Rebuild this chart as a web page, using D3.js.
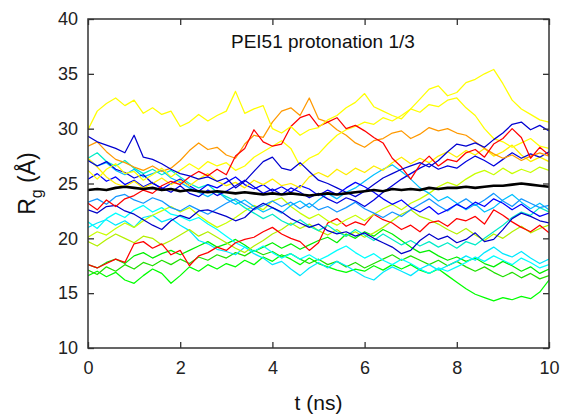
<!DOCTYPE html>
<html>
<head>
<meta charset="utf-8">
<script src="https://cdn.jsdelivr.net/npm/d3@7"></script>
<style>
  body { margin: 0; background: #fff; }
  svg { display: block; font-family: Arial, "Liberation Sans", sans-serif; }
</style>
</head>
<body>
<svg width="561" height="417"></svg>
<script>
// time (ns), one sample every 0.2 ns
var tNs = [0,0.2,0.4,0.6,0.8,1,1.2,1.4,1.6,1.8,2,2.2,2.4,2.6,2.8,3,3.2,3.4,3.6,3.8,4,4.2,4.4,4.6,4.8,5,
  5.2,5.4,5.6,5.8,6,6.2,6.4,6.6,6.8,7,7.2,7.4,7.6,7.8,8,8.2,8.4,8.6,8.8,9,9.2,9.4,9.6,9.8,10];

// Rg (Angstrom) of each chain
var yellow1 = [29.9,31.6,32.3,32.8,32.1,32.6,31.4,31.9,31.3,31.6,30.2,30.6,31.3,30.7,31.2,31.6,33.4,31.4,31.8,32.1,30.0,29.6,30.2,29.4,29.9,30.1,30.8,31.2,31.9,32.4,33.2,32.0,31.6,31.2,30.9,31.8,32.7,33.6,33.9,33.0,33.3,34.2,34.5,35.0,35.4,34.1,32.6,31.8,31.3,30.8,30.6];
var yellow2 = [26.2,25.4,26.3,26.8,25.9,26.1,25.3,25.8,26.4,25.6,26.2,26.8,26.3,27.0,26.6,26.9,26.2,26.6,27.4,27.9,28.4,28.9,28.2,26.6,27.3,27.7,28.6,29.4,29.9,30.2,30.6,30.4,31.0,30.7,31.2,31.8,31.5,32.2,32.0,32.6,32.8,31.9,31.2,30.0,29.1,28.8,28.3,28.7,29.1,28.4,28.2];
var yellow3 = [27.3,26.5,25.6,25.0,24.7,25.2,24.6,25.0,25.5,24.9,25.3,24.8,25.4,25.9,25.2,24.8,25.1,24.6,25.3,24.9,25.4,24.8,25.0,24.6,25.6,26.0,25.6,26.3,25.8,26.4,26.0,26.6,26.2,26.9,27.4,26.8,27.3,26.9,27.5,27.9,27.4,28.0,27.6,28.2,27.5,27.9,28.5,27.6,27.0,27.4,27.0];
var orange1 = [28.4,28.8,27.9,27.2,26.9,26.5,26.2,26.6,26.1,26.4,27.1,28.0,28.7,28.1,28.3,27.6,27.3,28.6,29.4,29.2,30.6,31.6,31.9,31.2,32.8,30.9,30.6,29.9,29.4,28.7,28.3,28.9,29.1,29.6,29.8,29.1,29.5,30.1,29.8,30.0,29.6,29.4,28.8,28.2,27.7,27.3,27.6,27.1,27.5,27.8,27.5];
var red1 = [23.2,22.6,23.5,22.9,23.6,23.9,24.4,24.1,24.8,25.2,24.9,25.6,26.1,25.7,26.3,25.8,27.5,28.2,29.9,28.8,28.4,28.6,30.2,31.0,31.3,30.2,30.6,31.0,30.0,30.3,29.8,29.2,28.7,27.3,26.5,25.4,26.7,27.5,26.6,27.2,27.0,27.8,28.1,27.4,28.6,29.1,30.0,29.2,27.3,28.3,27.6];
var red2 = [17.6,17.3,17.7,18.1,17.8,19.5,19.7,19.1,19.5,18.5,18.9,17.5,18.4,18.7,19.2,18.9,19.6,19.9,20.1,20.6,21.0,20.4,20.0,19.7,18.9,19.6,21.4,21.8,21.1,21.5,21.2,22.2,21.7,21.4,20.8,21.2,20.6,21.4,21.6,21.1,21.8,21.6,22.0,21.3,22.6,22.1,21.5,21.0,20.6,21.2,20.5];
var blue1 = [29.3,28.8,28.5,28.2,27.8,29.4,27.4,27.2,26.8,26.3,25.9,25.7,25.4,25.6,25.2,25.5,24.6,25.2,26.1,27.0,27.4,26.4,26.2,26.9,26.1,25.3,25.0,24.6,24.2,23.8,24.3,24.9,25.5,25.9,26.3,26.6,26.9,26.5,27.1,27.9,28.6,28.4,28.7,28.3,29.0,29.6,30.4,30.6,29.9,30.3,29.8];
var blue2 = [27.1,26.6,27.0,26.3,26.0,25.5,25.8,25.0,24.6,24.2,24.8,24.1,23.8,24.4,23.9,24.3,24.8,25.3,24.7,24.1,24.5,24.0,24.6,24.2,23.7,24.1,23.6,23.2,23.7,23.4,22.9,23.5,24.2,24.8,25.4,25.9,26.4,26.8,26.3,26.6,26.4,27.0,27.5,27.1,26.6,27.2,27.8,27.3,27.7,27.4,27.9];
var blue3 = [22.6,22.3,22.9,23.0,22.5,22.2,21.7,21.2,20.8,21.6,22.1,21.8,22.5,22.6,22.3,22.0,21.6,21.9,22.7,23.2,22.8,22.4,21.8,21.4,21.0,21.3,20.7,20.4,20.6,20.2,20.5,20.0,19.6,19.2,18.6,18.9,19.8,20.4,19.9,20.2,19.6,19.9,20.5,19.7,19.9,20.8,21.8,22.3,22.0,21.6,21.4];
var blue4 = [25.4,25.9,25.2,25.6,24.9,25.3,24.7,25.1,24.5,25.0,25.4,24.8,24.3,24.9,24.6,25.1,25.6,24.9,24.5,24.9,24.3,24.7,24.2,24.8,24.5,23.9,24.4,24.0,24.6,25.1,24.7,24.2,23.6,23.1,23.5,22.8,22.4,22.9,22.2,22.6,23.1,22.7,23.3,22.9,23.6,23.2,22.6,23.1,22.5,22.0,22.3];
var lightBlue1 = [23.3,23.6,23.1,23.8,24.0,23.5,23.2,23.7,23.4,22.8,22.5,23.0,22.6,22.2,22.7,23.2,23.6,23.1,22.6,23.0,23.4,22.9,23.3,22.7,23.2,22.6,22.9,22.4,22.8,23.3,22.7,22.3,21.9,22.4,22.0,22.6,23.1,23.6,23.0,22.5,23.1,23.6,23.0,23.5,24.1,23.4,22.9,23.6,23.2,22.8,23.0];
var lightBlue2 = [27.2,26.6,26.9,26.2,25.8,26.3,25.6,25.9,26.2,25.5,25.1,24.6,24.2,23.8,24.3,23.6,23.1,23.5,22.9,22.4,22.8,22.3,23.0,23.4,22.8,23.5,24.1,23.6,24.2,24.6,25.2,25.8,26.3,26.7,26.1,25.4,24.6,24.1,23.4,23.8,23.2,22.6,23.1,22.4,22.8,23.5,24.0,23.3,22.7,23.2,22.6];
var cyan1 = [21.0,21.4,21.7,21.2,21.6,21.0,21.9,22.1,21.5,21.8,21.2,20.7,19.8,19.5,19.0,18.8,18.5,19.2,18.6,18.2,17.6,17.9,17.2,16.6,17.3,17.8,17.3,17.9,17.5,17.0,16.5,16.2,16.9,17.4,17.0,16.6,17.2,17.6,17.1,17.5,17.9,18.4,18.0,18.7,19.2,18.6,18.3,18.8,18.2,17.7,18.1];
var cyan2 = [21.5,20.9,21.8,22.3,21.9,22.6,23.0,22.4,22.8,22.2,22.0,21.6,21.9,21.3,20.8,20.2,19.6,19.2,18.8,19.3,18.7,18.2,18.6,18.1,18.5,18.0,18.4,18.9,19.3,18.7,18.2,18.6,18.0,17.6,18.1,17.7,17.2,16.8,17.3,17.0,17.4,17.8,18.3,17.9,18.4,18.0,17.6,18.2,17.8,17.3,17.6];
var teal1 = [27.3,27.8,27.0,26.6,27.1,26.4,25.9,26.3,25.8,26.2,25.6,25.0,24.6,24.9,24.2,23.8,23.4,22.8,22.3,21.8,22.2,21.6,21.2,21.7,21.1,20.7,21.2,20.6,20.2,20.8,20.3,19.8,20.4,19.9,19.4,19.8,19.3,19.7,19.2,19.6,19.1,19.7,19.4,20.0,20.6,21.2,21.9,22.4,22.1,22.8,22.4];
var lime1 = [20.1,20.6,20.3,20.9,21.4,21.0,21.6,22.1,22.5,22.9,22.4,22.8,22.1,21.5,21.0,21.4,21.9,22.5,23.0,22.6,23.4,23.7,22.9,22.3,21.8,22.2,21.6,21.2,21.7,22.1,21.6,22.2,22.7,23.1,22.6,23.2,23.6,24.1,24.7,25.1,24.8,25.4,25.9,26.2,25.8,26.4,25.9,26.3,26.0,26.5,26.2];
var lime2 = [19.7,19.3,19.9,20.4,20.0,19.6,20.2,20.0,19.4,19.8,20.3,20.8,20.2,20.6,20.1,19.6,19.1,18.7,19.3,19.8,20.4,20.8,21.4,20.9,21.3,20.7,20.3,20.8,20.2,20.6,20.1,20.5,21.0,21.6,22.2,22.6,22.0,21.7,21.3,20.8,20.4,20.9,20.3,19.8,20.4,20.0,20.6,21.1,20.5,20.9,21.2];
var green1 = [16.6,17.0,16.5,16.9,16.2,15.9,16.6,17.2,16.8,15.9,16.6,17.4,17.0,17.6,17.2,17.7,17.4,18.0,17.6,18.3,17.9,18.5,18.1,17.6,18.2,17.7,17.4,17.1,16.9,17.2,17.0,17.5,17.1,17.6,17.2,17.6,17.1,16.8,17.2,16.6,16.0,15.4,14.9,14.6,14.3,14.6,14.4,14.7,14.5,15.1,16.2];
var green2 = [17.6,17.3,17.8,18.1,17.7,18.4,18.7,18.2,18.6,18.9,18.5,18.9,19.3,19.7,19.2,19.5,19.9,19.4,18.8,19.2,19.6,19.1,19.5,19.0,19.4,19.8,20.1,19.6,20.4,20.0,20.6,20.2,20.8,20.4,19.8,19.2,18.7,18.9,18.4,18.0,18.3,17.9,18.2,17.7,17.4,17.9,17.5,17.0,17.4,16.8,17.2];
var green3 = [17.1,16.7,17.4,17.0,17.6,17.2,17.8,17.5,18.0,17.6,18.1,17.7,18.3,18.0,18.5,18.2,18.7,18.4,18.9,18.5,18.8,18.3,18.6,18.1,17.7,18.1,17.6,17.9,17.4,17.8,17.3,17.7,18.1,18.5,18.0,18.4,18.0,17.6,18.0,17.5,17.9,17.4,17.0,17.4,16.9,16.5,16.9,16.4,16.8,16.3,16.6];
// average over all chains
var average = [24.4,24.5,24.4,24.6,24.7,24.6,24.5,24.6,24.4,24.5,24.3,24.4,24.3,24.2,24.3,24.2,24.1,24.2,24.1,24.0,24.1,24.0,24.1,24.0,23.9,24.0,24.1,24.0,24.1,24.2,24.3,24.4,24.3,24.5,24.4,24.5,24.4,24.6,24.5,24.6,24.6,24.7,24.6,24.7,24.8,24.8,24.9,25.0,24.9,24.8,24.7];

var xTicks = [0, 2, 4, 6, 8, 10];
var yTicks = [10, 15, 20, 25, 30, 35, 40];

// drawing order (last on top) and colours
var series = [
  {values: green1, color: "#00ff00"},
  {values: green3, color: "#20e000"},
  {values: green2, color: "#00f000"},
  {values: cyan1, color: "#00e8ff"},
  {values: cyan2, color: "#00ffff"},
  {values: lime2, color: "#b4f000"},
  {values: red2, color: "#ff0000"},
  {values: lime1, color: "#c8ff00"},
  {values: teal1, color: "#00ecc8"},
  {values: lightBlue2, color: "#00c0ff"},
  {values: lightBlue1, color: "#1296ff"},
  {values: blue3, color: "#0000c8"},
  {values: blue4, color: "#0000ff"},
  {values: yellow3, color: "#ffee00"},
  {values: blue2, color: "#0000e0"},
  {values: orange1, color: "#ff9900"},
  {values: yellow2, color: "#ffff00"},
  {values: red1, color: "#ff0000"},
  {values: blue1, color: "#0000d0"},
  {values: yellow1, color: "#ffff00"}
];

var svg = d3.select("svg"),
    margin = {top: 19, right: 12, bottom: 69, left: 88},
    width = +svg.attr("width") - margin.left - margin.right,
    height = +svg.attr("height") - margin.top - margin.bottom;

var x = d3.scaleLinear().domain([0, 10]).range([0, width]);
var y = d3.scaleLinear().domain([10, 40]).range([height, 0]);

svg.append("defs").append("clipPath").attr("id", "plotClip")
  .append("rect").attr("width", width).attr("height", height);

var g = svg.append("g").attr("transform", "translate(" + margin.left + "," + margin.top + ")");

var line = d3.line()
    .x(function(d, i) { return x(tNs[i]); })
    .y(function(d) { return y(d); });

var plot = g.append("g").attr("clip-path", "url(#plotClip)");

plot.selectAll(".chain")
  .data(series)
  .enter().append("path")
    .attr("class", "chain")
    .attr("fill", "none")
    .attr("stroke", function(d) { return d.color; })
    .attr("stroke-width", 1.25)
    .attr("stroke-linejoin", "round")
    .attr("d", function(d) { return line(d.values); });

plot.append("path")
    .attr("fill", "none")
    .attr("stroke", "#000")
    .attr("stroke-width", 2.6)
    .attr("stroke-linejoin", "round")
    .attr("d", line(average));

// axes, ticks pointing inwards on all four sides
var axisColor = "#333";

function styleAxis(sel) {
  sel.select(".domain").remove();
  sel.selectAll(".tick line").attr("stroke", axisColor).attr("stroke-width", 1.3);
  sel.selectAll(".tick text").attr("fill", "#222").style("font-size", "18px")
    .style("font-family", "Arial, 'Liberation Sans', sans-serif");
}

g.append("g")
    .attr("transform", "translate(0," + height + ")")
    .call(d3.axisBottom(x).tickValues(xTicks).tickSize(-6).tickPadding(13))
    .call(styleAxis);

g.append("g")
    .call(d3.axisTop(x).tickValues(xTicks).tickSize(-6).tickFormat(""))
    .call(styleAxis);

g.append("g")
    .call(d3.axisLeft(y).tickValues(yTicks).tickSize(-6).tickPadding(10))
    .call(styleAxis);

g.append("g")
    .attr("transform", "translate(" + width + ",0)")
    .call(d3.axisRight(y).tickValues(yTicks).tickSize(-6).tickFormat(""))
    .call(styleAxis);

g.append("rect")
    .attr("width", width)
    .attr("height", height)
    .attr("fill", "none")
    .attr("stroke", axisColor)
    .attr("stroke-width", 1.5);

// title and axis labels
g.append("text")
    .attr("x", 143)
    .attr("y", 29)
    .attr("fill", "#111")
    .style("font-size", "19px")
    .text("PEI51 protonation 1/3");

svg.append("text")
    .attr("x", margin.left + width / 2)
    .attr("y", 410)
    .attr("text-anchor", "middle")
    .attr("fill", "#111")
    .style("font-size", "21px")
    .text("t (ns)");

var yLabel = svg.append("text")
    .attr("transform", "translate(35," + (margin.top + height / 2) + ") rotate(-90)")
    .attr("text-anchor", "middle")
    .attr("fill", "#111")
    .style("font-size", "23px");
yLabel.append("tspan").text("R");
yLabel.append("tspan").attr("dy", 7).style("font-size", "16px").text("g");
yLabel.append("tspan").attr("dy", -7).text(" (Å)");
</script>
</body>
</html>
